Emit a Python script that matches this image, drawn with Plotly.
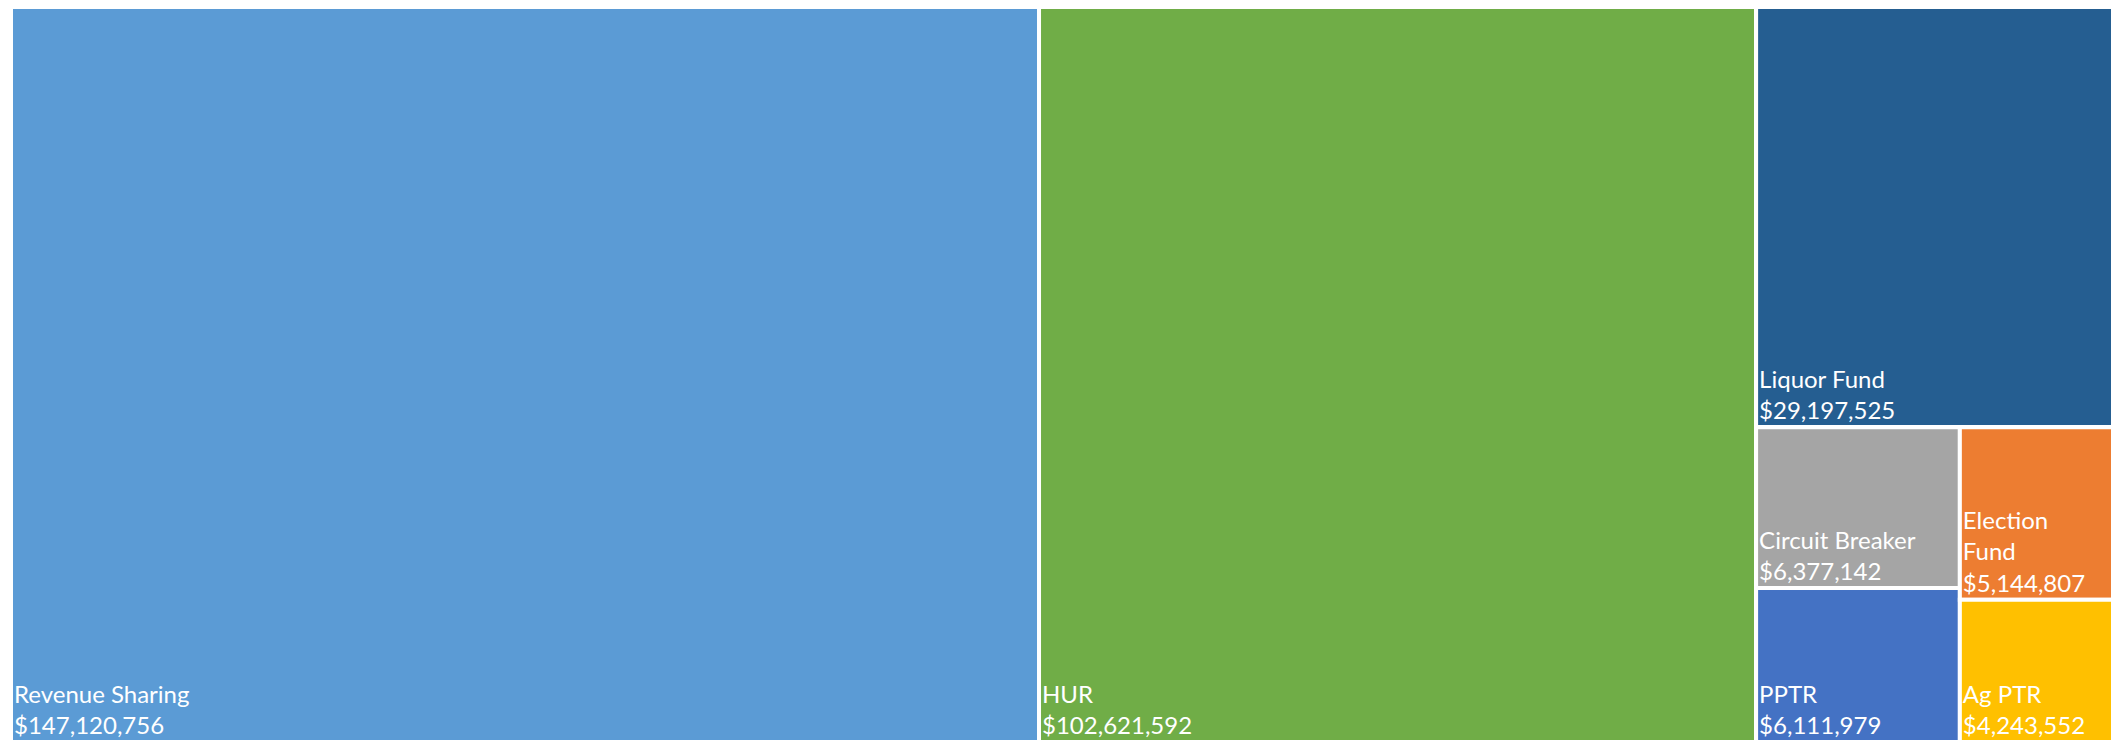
import plotly.graph_objects as go

# Leaf categories and their amounts (USD)
names = ["Revenue Sharing", "HUR", "Liquor Fund", "Circuit Breaker",
         "PPTR", "Election Fund", "Ag PTR"]
display_names = ["Revenue Sharing", "HUR", "Liquor Fund", "Circuit Breaker",
                 "PPTR", "Election<br>Fund", "Ag PTR"]
amounts = [147120756, 102621592, 29197525, 6377142, 6111979, 5144807, 4243552]
colors = ["#5B9BD5", "#70AD47", "#255E91", "#A5A5A5", "#4472C4", "#ED7D31", "#FFC000"]

# Nesting of the tiles (grouping nodes are unlabeled); listed in drawing order
tree = {
    "total": ["Revenue Sharing", "HUR", "other"],
    "other": ["Liquor Fund", "small"],
    "small": ["small_a", "small_b"],
    "small_a": ["Circuit Breaker", "PPTR"],
    "small_b": ["Election Fund", "Ag PTR"],
}

value_of = dict(zip(names, amounts))
display_of = dict(zip(names, display_names))
color_of = dict(zip(names, colors))


def total(node):
    if node in value_of:
        return value_of[node]
    return sum(total(c) for c in tree[node])


ids, labels, parents, values, texts, fills = [], [], [], [], [], []


def walk(node, parent):
    ids.append(node)
    parents.append(parent)
    values.append(total(node))
    if node in value_of:
        labels.append(node)
        texts.append(f"{display_of[node]}<br>${value_of[node]:,}")
        fills.append(color_of[node])
    else:
        labels.append("")
        texts.append("")
        fills.append("#FFFFFF")
    for child in tree.get(node, []):
        walk(child, node)


walk("total", "")

fig = go.Figure(go.Treemap(
    ids=ids,
    labels=labels,
    parents=parents,
    values=values,
    branchvalues="total",
    sort=False,
    text=texts,
    textinfo="text",
    textposition="bottom left",
    textfont=dict(family="Lato, sans-serif", size=24, color="#FFFFFF"),
    marker=dict(colors=fills, line=dict(color="#FFFFFF", width=4),
                pad=dict(t=0, l=0, r=0, b=0)),
    tiling=dict(packing="slice-dice", pad=0),
    pathbar=dict(visible=False),
    hoverinfo="label+value",
))

fig.update_layout(
    width=2113, height=742,
    margin=dict(l=11, r=0, t=7, b=0),
    paper_bgcolor="#FFFFFF",
    uniformtext=dict(minsize=24, mode="show"),
)

fig.write_html("out.html")
